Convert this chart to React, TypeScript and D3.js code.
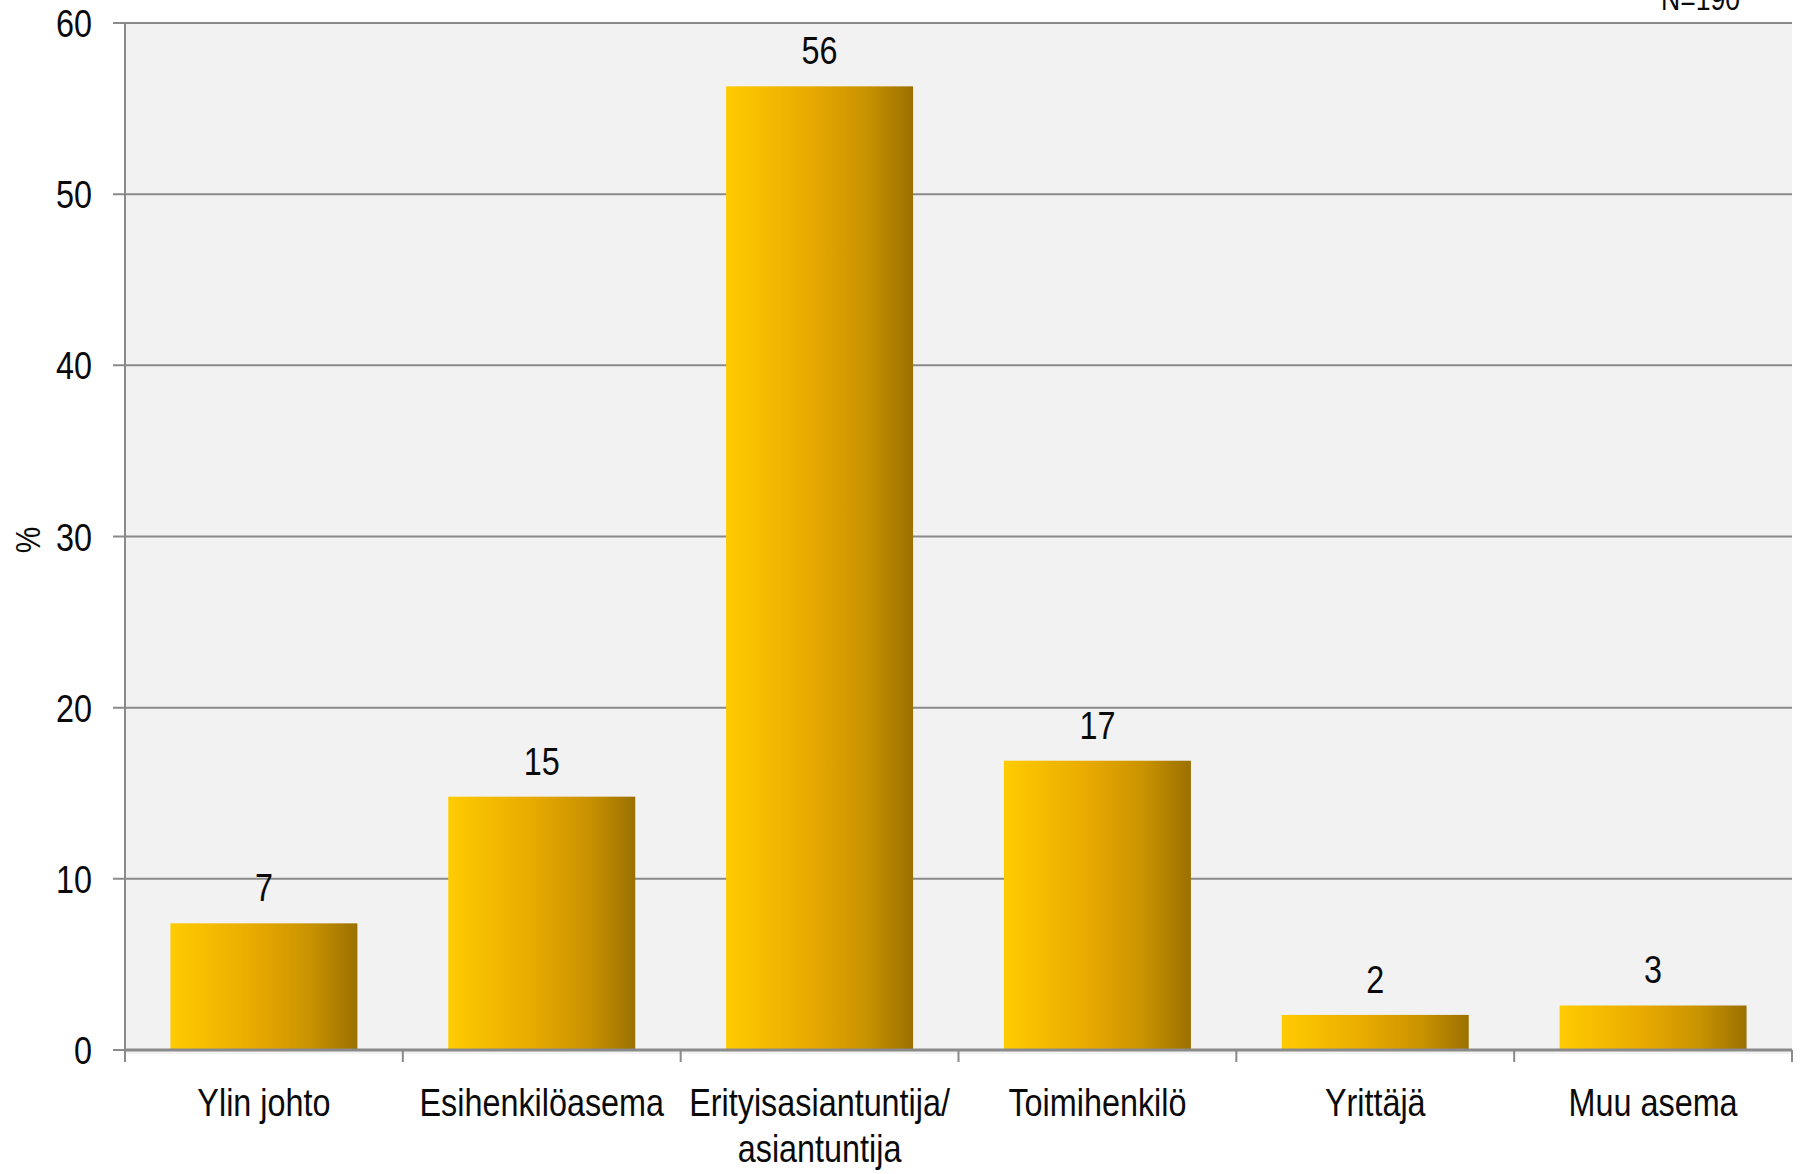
import * as d3 from "d3";

const categories = [
  ["Ylin johto"],
  ["Esihenkilöasema"],
  ["Erityisasiantuntija/", "asiantuntija"],
  ["Toimihenkilö"],
  ["Yrittäjä"],
  ["Muu asema"],
];
const values = [7.4, 14.8, 56.3, 16.9, 2.05, 2.6];
const valueLabels = ["7", "15", "56", "17", "2", "3"];
const yTicks = [0, 10, 20, 30, 40, 50, 60];

const W = 1801,
  H = 1174;
const m = { top: 23, right: 9, bottom: 124, left: 125 };
const font = "'Liberation Sans', Arial, sans-serif";
const grid = "#8a8a8a";
const squeeze = 0.83; // narrow face: squash Liberation Sans horizontally

// text drawn narrow at (x, y)
function Txt({
  x,
  y,
  anchor = "middle",
  size = 39,
  rotate = 0,
  dy,
  children,
}: {
  x: number;
  y: number;
  anchor?: string;
  size?: number;
  rotate?: number;
  dy?: string;
  children: any;
}) {
  return (
    <text
      transform={`translate(${x},${y}) rotate(${rotate}) scale(${squeeze},1)`}
      textAnchor={anchor}
      fontSize={size}
      dy={dy}
      fill="#0a0a0a"
    >
      {children}
    </text>
  );
}

export default function App() {
  const x = d3
    .scaleBand<number>()
    .domain(d3.range(categories.length))
    .range([m.left, W - m.right])
    .paddingInner(0.327)
    .paddingOuter(0.1635);

  const y = d3
    .scaleLinear()
    .domain([0, 60])
    .range([H - m.bottom, m.top]);

  const step = (W - m.right - m.left) / categories.length;
  const y0 = y(0);
  const cx = (i: number) => x(i)! + x.bandwidth() / 2;

  return (
    <svg
      width={W}
      height={H}
      style={{ position: "absolute", left: 0, top: 0, background: "#fff" }}
      fontFamily={font}
    >
      <defs>
        <linearGradient id="gold" x1="0" x2="1" y1="0" y2="0">
          <stop offset="0" stopColor="#ffcb00" />
          <stop offset="0.45" stopColor="#e8aa00" />
          <stop offset="0.75" stopColor="#c99200" />
          <stop offset="1" stopColor="#9a7000" />
        </linearGradient>
      </defs>

      {/* plot background */}
      <rect
        x={m.left}
        y={m.top}
        width={W - m.right - m.left}
        height={y0 - m.top + 4}
        fill="#f2f2f2"
      />

      {/* gridlines + y ticks */}
      {yTicks.map((t) => (
        <g key={t}>
          <line
            x1={m.left - 12}
            x2={W - m.right}
            y1={y(t)}
            y2={y(t)}
            stroke={grid}
            strokeWidth={2}
          />
          <Txt x={92} y={y(t)} dy="0.36em" anchor="end">
            {t}
          </Txt>
        </g>
      ))}

      {/* left axis line */}
      <line
        x1={m.left}
        x2={m.left}
        y1={m.top}
        y2={y0 + 12}
        stroke={grid}
        strokeWidth={2}
      />

      {/* bars */}
      {values.map((v, i) => (
        <rect
          key={i}
          x={x(i)}
          y={y(v)}
          width={x.bandwidth()}
          height={y0 - y(v)}
          fill="url(#gold)"
        />
      ))}

      {/* bottom axis */}
      <line
        x1={m.left}
        x2={W - m.right}
        y1={y0}
        y2={y0}
        stroke={grid}
        strokeWidth={3}
      />
      {d3.range(categories.length + 1).map((i) => (
        <line
          key={i}
          x1={m.left + i * step}
          x2={m.left + i * step}
          y1={y0}
          y2={y0 + 12}
          stroke={grid}
          strokeWidth={2}
        />
      ))}

      {/* value labels */}
      {values.map((v, i) => (
        <Txt key={i} x={cx(i)} y={y(v) - 22}>
          {valueLabels[i]}
        </Txt>
      ))}

      {/* category labels */}
      {categories.map((lines, i) =>
        lines.map((l, j) => (
          <Txt key={`${i}-${j}`} x={cx(i)} y={y0 + 66 + j * 46}>
            {l}
          </Txt>
        ))
      )}

      {/* y axis title */}
      <Txt x={40} y={540} rotate={-90} size={36}>
        %
      </Txt>

      {/* N */}
      <Txt x={1740} y={10} anchor="end" size={32}>
        N=190
      </Txt>
    </svg>
  );
}
